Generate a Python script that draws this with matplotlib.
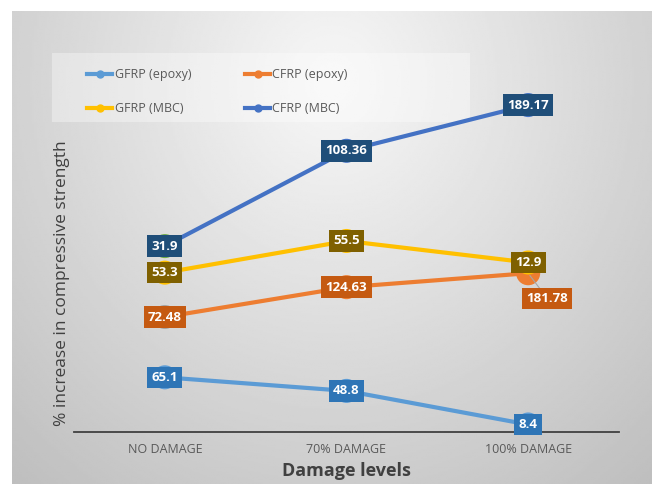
import matplotlib
matplotlib.use("Agg")
import matplotlib.pyplot as plt
import numpy as np
from matplotlib.lines import Line2D
from matplotlib.patches import Rectangle

plt.rcParams["font.family"] = ["Open Sans", "DejaVu Sans"]

categories = ["NO DAMAGE", "70% DAMAGE", "100% DAMAGE"]
series_names = ["GFRP (epoxy)", "CFRP (epoxy)", "GFRP (MBC)", "CFRP (MBC)"]
gfrp_epoxy = [65.1, 48.8, 8.4]
cfrp_epoxy = [72.48, 124.63, 181.78]
gfrp_mbc = [53.3, 55.5, 12.9]
cfrp_mbc = [31.9, 108.36, 189.17]

line_colors = ["#5B9BD5", "#ED7D31", "#FFC000", "#4472C4"]
label_colors = ["#2E75B6", "#C55A11", "#7F6000", "#1F4E79"]
first_marker_colors = ["#5B9BD5", "#A5A5A5", "#FFC000", "#70AD47"]

W, H = 658, 484
fig = plt.figure(figsize=(W / 100, H / 100), dpi=100)
fig.patch.set_facecolor("white")

# gradient chart background
bg = fig.add_axes([12 / W, 0, (652 - 12) / W, (H - 11) / H], zorder=0)
gx, gy = np.meshgrid(np.linspace(0, 1, 300), np.linspace(0, 1, 300))
r = np.sqrt(((gx - 0.5) / 0.75) ** 2 + ((gy - 0.15) / 1.1) ** 2)
shade = np.clip(0.97 - 0.22 * r, 0.74, 0.97)
bg.imshow(shade, cmap="gray", vmin=0, vmax=1, aspect="auto",
          extent=[0, 1, 1, 0], interpolation="bilinear")
bg.set_axis_off()

# legend backdrop
fig.patches.append(Rectangle((52 / W, 1 - 122 / H), (470 - 52) / W, (122 - 53) / H,
                             transform=fig.transFigure, facecolor="white",
                             alpha=0.35, edgecolor="none", zorder=1))

ax = fig.add_axes([74 / W, (H - 431.5) / H, (619 - 74) / W, (431.5 - 57) / H], zorder=2)
ax.patch.set_alpha(0)
x = np.arange(len(categories))
data = [gfrp_epoxy, cfrp_epoxy, gfrp_mbc, cfrp_mbc]
stacked = np.cumsum(np.array(data), axis=0)

for i, (name, vals) in enumerate(zip(series_names, data)):
    ys = stacked[i]
    ax.plot(x, ys, color=line_colors[i], lw=3, zorder=3 + i, solid_capstyle="round")
    mcolors = [first_marker_colors[i]] + [line_colors[i]] * (len(x) - 1)
    ax.scatter(x, ys, s=300, c=mcolors, zorder=3 + i, linewidths=0)

for i, vals in enumerate(data):
    for j, v in enumerate(vals):
        dx, dy = 0, 0
        if i == 1 and j == 2:
            dx, dy = 19, -25
            ax.annotate("", xy=(x[j], stacked[i][j]), xytext=(dx, dy),
                        textcoords="offset pixels",
                        arrowprops=dict(arrowstyle="-", color="#A5A5A5", lw=0.8),
                        zorder=9)
        ax.annotate(f"{v:g}", xy=(x[j], stacked[i][j]), xytext=(dx, dy),
                    textcoords="offset pixels", ha="center", va="center",
                    fontsize=9.5, fontweight="bold", color="white", zorder=10,
                    bbox=dict(boxstyle="square,pad=0.32", fc=label_colors[i], ec="none"))

ax.set_xlim(-0.5, 2.5)
ax.set_ylim(0, 450)
ax.set_xticks(x)
ax.set_xticklabels(categories, fontsize=9, color="#595959")
ax.tick_params(axis="x", length=0, pad=8)
ax.set_yticks([])
for s in ["top", "right", "left"]:
    ax.spines[s].set_visible(False)
ax.spines["bottom"].set_color("#404040")
ax.spines["bottom"].set_linewidth(1.3)

fig.text(346 / W, 1 - 471 / H, "Damage levels", fontsize=13, fontweight="bold",
         color="#404040", ha="center", va="center")
fig.text(62 / W, 1 - 283 / H, "% increase in compressive strength", fontsize=12.5,
         color="#404040", ha="center", va="center", rotation=90)

handles = [Line2D([], [], color=c, lw=3, marker="o", markersize=5) for c in line_colors]
order = [0, 2, 1, 3]  # fill legend row by row
fig.legend([handles[k] for k in order], [series_names[k] for k in order],
           loc="upper left", bbox_to_anchor=(76 / W, 1 - 57 / H),
           ncol=2, frameon=False, fontsize=9, labelcolor="#595959",
           handlelength=2.0, handletextpad=0.2, columnspacing=4.3, labelspacing=1.7)

fig.savefig("out.png", dpi=100)
